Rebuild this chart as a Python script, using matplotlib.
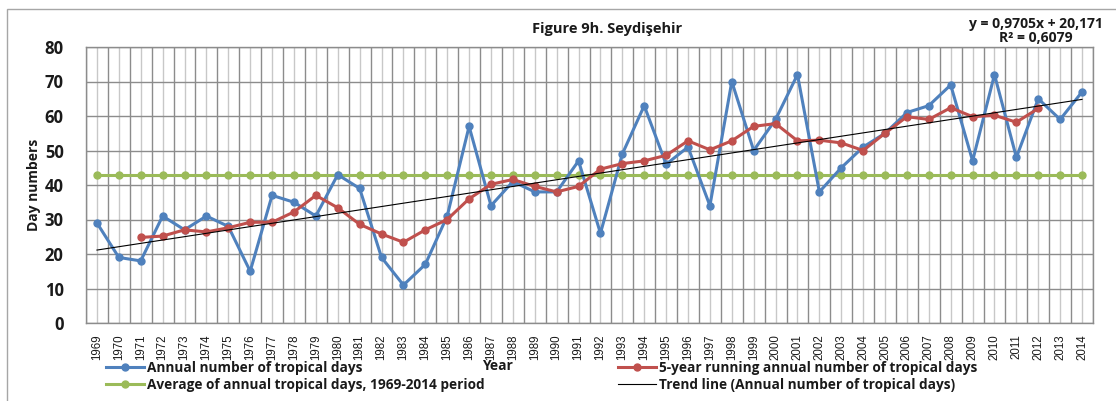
import numpy as np
import matplotlib
matplotlib.use("Agg")
import matplotlib.pyplot as plt
from matplotlib.lines import Line2D
from matplotlib.patches import Rectangle

# Seydisehir - annual number of tropical days, 1969-2014
years = list(range(1969, 2015))
annual = [29, 19, 18, 31, 27, 31, 28, 15, 37, 35, 31, 43, 39, 19, 11, 17,
          31, 57, 34, 41, 38, 38, 47, 26, 49, 63, 46, 51, 34, 70, 50, 59,
          72, 38, 45, 51, 55, 61, 63, 69, 47, 72, 48, 65, 59, 67]
# 5-year running values (centred, 1971-2012)
running_years = list(range(1971, 2013))
running = [24.8, 25.2, 27.0, 26.4, 27.6, 29.2, 29.2, 32.2, 37.0, 33.4, 28.6,
           25.8, 23.4, 27.0, 30.0, 36.0, 40.2, 41.6, 39.6, 38.0, 39.6, 44.6,
           46.2, 47.0, 48.6, 52.8, 50.2, 52.8, 57.0, 57.8, 52.8, 53.0, 52.2,
           50.0, 55.0, 59.8, 59.0, 62.4, 59.8, 60.2, 58.2, 62.2]
average = 43.0
trend_slope = 0.9705
trend_icept = 20.171

BLUE = "#4F81BD"
RED = "#C0504D"
GREEN = "#9BBB59"
TXT = "#1a1a1a"

W, H = 1116, 401
fig = plt.figure(figsize=(W / 100, H / 100), dpi=100)

# plot area in pixels: left 86, right 1093, top 47, bottom 323
ax = fig.add_axes([86 / W, 1 - 323 / H, (1093 - 86) / W, (323 - 47) / H])

x = np.arange(len(years))
xr = np.array([years.index(y) for y in running_years])

ax.plot(x, annual, color=BLUE, lw=2.2, marker="o", ms=5, zorder=4)
ax.plot(xr, running, color=RED, lw=2.2, marker="o", ms=5, zorder=5)
ax.plot(x, [average] * len(x), color=GREEN, lw=2.2, marker="o", ms=5, zorder=3)
ax.plot(x, trend_slope * (x + 1) + trend_icept, color="black", lw=0.8, zorder=6)

ax.set_xlim(-0.5, len(years) - 0.5)
ax.set_ylim(0, 80)
ax.set_yticks(range(0, 81, 10))
ax.set_xticks(x)
ax.set_xticklabels([str(y) for y in years], rotation=90, fontsize=8.3,
                   family="Liberation Sans", color=TXT)
ax.set_xticks(np.arange(-0.5, len(years), 1.0), minor=True)
for lab in ax.get_yticklabels():
    lab.set_fontweight("bold")
    lab.set_fontsize(12)
    lab.set_family("Open Sans")
    lab.set_color(TXT)
ax.tick_params(axis="both", which="both", length=0)
ax.tick_params(axis="y", pad=16)
ax.tick_params(axis="x", pad=8)

# gridlines: dark at category boundaries and every 10, light at category centres
ax.grid(True, axis="x", which="major", color="#c8c8c8", lw=1.0, zorder=0)
ax.grid(True, axis="x", which="minor", color="#8c8c8c", lw=1.0, zorder=0)
ax.grid(True, axis="y", which="major", color="#8c8c8c", lw=1.0, zorder=0)
ax.set_axisbelow(True)
for s in ax.spines.values():
    s.set_color("#8c8c8c")
    s.set_linewidth(1.0)

# outer chart border
fig.patches.append(Rectangle((7 / W, -0.1), 1.2, 1 - 9 / H + 0.1,
                             transform=fig.transFigure, fill=False,
                             edgecolor="#a6a6a6", lw=1.0))

fig.text(607 / W, 1 - 29 / H, "Figure 9h. Seydişehir", ha="center",
         va="center", fontsize=10.5, fontweight="bold", family="Open Sans",
         color=TXT)
fig.text(1036 / W, 1 - 31 / H,
         "y = 0,9705x + 20,171\nR² = 0,6079", ha="center", va="center",
         fontsize=10, fontweight="bold", family="Open Sans", color=TXT,
         linespacing=1.05)
fig.text(34 / W, 1 - 185 / H, "Day numbers", rotation=90, ha="center",
         va="center", fontsize=10, fontweight="bold", family="Open Sans",
         color=TXT)
fig.text(497 / W, 1 - 366 / H, "Year", ha="center", va="center",
         fontsize=10, fontweight="bold", family="Open Sans", color=TXT)

leg_font = {"family": "Open Sans", "weight": "bold", "size": 9.8}
h_blue = Line2D([], [], color=BLUE, lw=2.2, marker="o", ms=5)
h_green = Line2D([], [], color=GREEN, lw=2.2, marker="o", ms=5)
h_red = Line2D([], [], color=RED, lw=2.2, marker="o", ms=5)
h_black = Line2D([], [], color="black", lw=0.8)

leg1 = fig.legend([h_blue, h_green],
                  ["Annual number of tropical days",
                   "Average of annual tropical days, 1969-2014 period"],
                  loc="upper left", bbox_to_anchor=(106 / W, 1 - 361 / H),
                  frameon=False, prop=leg_font, handlelength=2.8,
                  handletextpad=0.2, labelspacing=0.2, borderpad=0,
                  borderaxespad=0, labelcolor=TXT)
leg2 = fig.legend([h_red, h_black],
                  ["5-year running annual number of tropical days",
                   "Trend line (Annual number of tropical days)"],
                  loc="upper left", bbox_to_anchor=(618 / W, 1 - 361 / H),
                  frameon=False, prop=leg_font, handlelength=2.8,
                  handletextpad=0.2, labelspacing=0.2, borderpad=0,
                  borderaxespad=0, labelcolor=TXT)

fig.savefig("out.png", dpi=100)
